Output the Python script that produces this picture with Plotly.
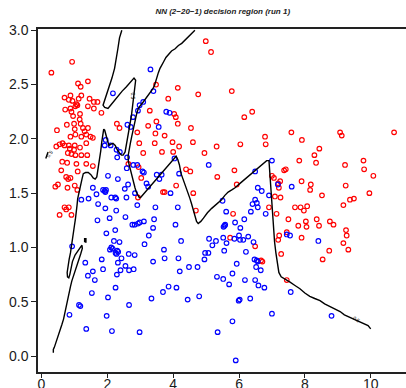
import plotly.graph_objects as go

# ---------------- data ----------------
red_pts = [
    (0.93,2.71),(0.30,2.61),(1.11,2.51),(1.41,2.53),(1.19,2.48),(0.70,2.38),(0.88,2.40),(1.21,2.40),
    (1.13,2.37),(0.83,2.36),(0.94,2.35),(1.06,2.32),(1.09,2.31),(1.03,2.30),(1.46,2.37),(1.59,2.34),
    (1.70,2.34),(1.41,2.30),(1.59,2.28),(1.82,2.24),(0.72,2.27),(0.88,2.28),(0.91,2.25),(0.96,2.21),
    (1.17,2.23),(1.16,2.18),(0.47,2.08),(0.77,2.13),(0.99,2.14),(1.19,2.14),(1.01,2.09),(1.03,2.04),
    (1.26,2.10),(1.31,2.07),(1.41,2.10),(0.88,2.02),(1.21,2.02),(1.36,2.04),(1.49,2.02),(1.56,2.01),
    (2.29,2.14),(2.37,2.10),(0.55,1.95),(0.70,1.94),(0.83,1.94),(1.01,1.94),(1.36,1.96),(0.45,1.93),
    (0.64,1.96),(1.17,1.92),
    (0.86,1.91),(0.99,1.90),(0.80,1.87),(0.91,1.86),(1.03,1.85),(1.21,1.85),(1.39,1.85),(0.63,1.79),
    (0.78,1.78),(1.06,1.77),(1.36,1.77),(1.56,1.75),(0.60,1.71),(1.10,1.70),(0.75,1.65),(0.81,1.63),
    (0.88,1.64),(0.50,1.58),(0.42,1.56),(0.79,1.55),(1.01,1.57),(1.09,1.53),(0.70,1.37),(0.75,1.35),
    (0.83,1.37),(0.55,1.30),(0.91,1.30),
    (3.48,2.50),(3.85,2.37),(3.29,2.26),(3.24,2.12),(3.49,2.16),(3.74,2.03),(3.46,2.05),(4.03,2.23),
    (4.08,2.20),(2.91,2.06),(2.97,1.96),(3.09,1.87),(3.44,1.96),(3.66,1.88),(4.00,1.88),(3.98,1.97),
    (2.64,1.77),(2.95,1.74),(3.03,1.64),(2.93,1.46),(3.69,1.51),(3.74,1.51),(4.09,1.57),
    (4.18,1.93),(4.95,1.87),(5.32,1.93),(4.39,1.72),(4.52,1.70),(5.86,1.71),(5.34,1.65),(4.61,1.50),
    (5.93,1.58),(4.69,1.34),(5.82,1.31),(5.73,1.09),(6.49,1.01),(6.71,0.87),(7.00,1.66),(7.06,1.64),
    (7.19,1.59),(7.25,1.61),(7.21,1.55),(7.37,1.71),(7.42,1.72),(7.83,1.80),(8.29,1.85),(7.90,1.61),
    (8.18,1.58),(8.16,1.53),(7.09,1.47),(7.26,1.46),(6.91,1.37),(7.70,1.37),(7.87,1.37),(7.97,1.34),
    (8.07,1.38),(7.14,1.31),(7.50,1.26),(8.03,1.24),(7.80,1.20),(7.45,1.14),(7.90,1.09),(7.19,1.07),
    (7.28,0.94),
    (4.99,2.90),(5.15,2.80),(4.14,2.47),(4.76,2.41),(5.78,2.44),(4.14,2.14),(4.54,2.10),(6.16,2.20),
    (6.40,2.25),(4.60,1.97),(6.04,1.95),(6.79,2.02),(6.81,1.95),(7.59,2.06),(7.91,1.99),
    (8.44,1.91),(8.34,1.78),(9.07,2.06),(9.12,2.03),(10.71,2.06),(9.78,1.80),(9.80,1.72),(9.22,1.76),
    (10.08,1.66),(9.24,1.57),(8.52,1.48),(9.96,1.50),(9.49,1.45),(9.37,1.44),(9.17,1.39),(8.36,1.26),
    (8.76,1.24),(8.87,1.21),(8.43,1.20),(8.05,1.19),(9.25,1.16),(9.27,1.11),(9.17,1.04),(9.32,0.98),
    (8.74,0.97),(8.54,0.89),(6.67,0.88),(7.45,0.70),(7.22,1.11),
]

blue_pts = [
    (3.31,2.64),(3.40,2.44),(2.17,2.42),(3.09,2.34),(2.98,2.31),(2.93,2.26),(2.78,2.20),(2.61,2.13),
    (2.71,2.11),(3.56,2.11),(3.79,2.25),(3.89,2.24),(1.95,1.99),(1.92,1.94),(2.10,1.94),
    (2.28,1.90),(2.38,1.88),(2.30,1.83),(2.60,1.83),(2.79,1.76),(2.91,1.76),(3.07,1.70),(3.11,1.69),
    (2.59,1.73),(3.19,1.59),(3.24,1.56),(2.53,1.54),(2.63,1.58),(2.84,1.50),(3.50,1.67),(3.58,1.63),
    (3.65,1.67),(3.92,1.50),(4.04,1.82),(4.18,1.68),(5.08,1.76),
    (2.02,1.66),(2.32,1.63),(1.56,1.55),(1.87,1.53),(1.92,1.52),(1.96,1.53),(1.94,1.51),(1.67,1.49),
    (1.43,1.45),(1.72,1.40),(2.12,1.46),(2.24,1.46),(2.27,1.45),(2.58,1.46),(2.91,1.39),(3.46,1.37),
    (1.21,1.44),(1.94,1.36),(2.27,1.34),(2.07,1.27),(1.70,1.25),(2.55,1.28),(2.76,1.21),(2.83,1.21),
    (2.93,1.22),(2.98,1.23),(3.11,1.24),(3.42,1.26),(3.39,1.18),(3.26,1.11),(3.13,1.03),(3.72,0.98),
    (4.07,1.21),(1.97,1.13),(2.24,1.16),(2.20,1.06),(2.12,1.00),(2.16,0.99),(2.08,0.98),(2.37,1.05),
    (0.93,1.01),(2.33,0.96),(2.28,0.94),(2.25,0.95),(2.30,0.97),(2.43,0.90),(2.65,0.94),(2.83,0.93),
    (1.33,0.86),(3.39,0.87),(3.74,0.90),(1.83,0.89),
    (7.00,1.80),(6.49,1.70),(6.57,1.55),(6.69,1.52),(7.18,1.58),(7.60,1.56),(6.91,1.48),(5.50,1.43),
    (6.49,1.44),(6.54,1.41),(6.41,1.40),(6.57,1.37),(6.81,1.31),(6.36,1.33),(5.61,1.33),(4.14,1.37),
    (6.16,1.26),(5.88,1.23),(5.56,1.20),(5.53,1.19),(5.58,1.21),(6.04,1.18),(4.24,1.06),(4.16,0.90),
    (5.09,1.08),(5.30,1.06),(5.19,1.02),(5.52,1.09),(5.62,1.04),(5.86,1.08),(6.00,1.11),(6.03,1.07),
    (6.13,1.07),(6.28,1.10),(6.44,1.05),(5.55,0.97),(6.21,0.96),(4.97,0.95),(5.07,0.95),(4.95,0.89),
    (6.54,0.88),(6.57,0.87),(6.47,0.89),(5.93,0.85),(7.45,1.12),(7.55,1.11),(8.41,1.06),
    (1.56,0.78),(1.41,0.74),(1.87,0.80),(1.62,0.70),(2.32,0.86),(2.55,0.83),(2.40,0.79),(2.29,0.75),
    (2.66,0.79),(2.80,0.80),(2.25,0.63),(1.53,0.58),(2.02,0.54),(1.14,0.47),(1.18,0.46),(0.85,0.38),
    (2.66,0.47),(1.98,0.37),(3.34,0.53),(3.69,0.59),(3.86,0.64),(4.10,0.63),(1.36,0.25),(2.14,0.23),
    (2.98,0.22),
    (4.20,0.78),(4.48,0.82),(4.74,0.82),(6.52,0.82),(6.66,0.79),(5.33,0.73),(5.52,0.71),(5.80,0.76),
    (5.70,0.66),(6.18,0.70),(6.49,0.70),(6.59,0.65),(6.77,0.63),(4.44,0.52),(4.79,0.55),(5.99,0.51),
    (6.02,0.52),(6.34,0.53),(7.57,0.59),(7.00,0.39),(5.80,0.32),(5.35,0.22),(5.90,-0.04),(8.81,0.37),
]

# decision boundary (0.5 contour), traced vertices
boundary_a = [
    (2.44,3.00),(2.37,2.93),(2.32,2.83),(2.27,2.74),(2.22,2.65),(2.14,2.56),(2.07,2.50),(2.00,2.44),
    (1.94,2.39),(1.89,2.34),(1.87,2.31),(1.92,2.29),(2.02,2.28),(2.10,2.31),(2.20,2.35),(2.32,2.39),
    (2.45,2.44),(2.58,2.48),(2.70,2.52),(2.81,2.56),(2.86,2.54),(2.84,2.48),(2.82,2.42),(2.79,2.35),
    (2.76,2.28),(2.73,2.21),(2.69,2.14),(2.65,2.07),(2.62,2.00),(2.59,1.93),(2.54,1.88),(2.48,1.85),
    (2.43,1.85),(2.37,1.87),(2.30,1.90),(2.24,1.94),(2.17,1.96),(2.10,1.95),(2.05,1.94),(2.00,1.99),
    (1.96,2.04),(1.92,2.08),(1.89,2.09),(1.86,2.04),(1.83,1.97),(1.80,1.89),(1.77,1.82),(1.74,1.76),
    (1.71,1.70),(1.68,1.65),(1.63,1.63),(1.57,1.64),(1.50,1.67),(1.42,1.69),(1.34,1.69),(1.27,1.68),
    (1.23,1.63),(1.19,1.58),(1.15,1.54),(1.12,1.50),(1.10,1.45),(1.08,1.39),(1.06,1.32),(1.03,1.26),
    (1.00,1.20),(0.97,1.13),(0.94,1.07),(0.91,1.01),(0.88,0.95),(0.84,0.89),(0.80,0.83),(0.78,0.77),
    (0.79,0.73),(0.83,0.72),(0.86,0.75),(0.89,0.81),(0.94,0.87),(1.02,0.93),(1.10,0.97),(1.18,1.00),
    (1.23,1.02),(1.24,0.99),(1.19,0.94),(1.12,0.88),(1.04,0.81),(0.97,0.75),(0.92,0.69),(0.88,0.64),
    (0.84,0.58),(0.80,0.52),(0.76,0.46),(0.72,0.40),(0.67,0.34),(0.62,0.29),(0.57,0.24),(0.52,0.19),
    (0.47,0.15),(0.43,0.11),(0.39,0.08),(0.36,0.06),(0.36,0.03),
]

boundary_b = [
    (4.66,3.00),(4.56,2.97),(4.46,2.94),(4.36,2.91),(4.26,2.88),(4.16,2.86),(4.06,2.83),(3.95,2.81),
    (3.85,2.78),(3.78,2.75),(3.71,2.71),(3.65,2.68),(3.60,2.65),(3.55,2.61),(3.51,2.57),(3.48,2.53),
    (3.43,2.49),(3.38,2.46),(3.31,2.43),(3.25,2.40),(3.17,2.37),(3.09,2.34),(3.01,2.31),(2.94,2.28),
    (2.89,2.23),(2.85,2.18),(2.82,2.14),(2.78,2.08),(2.74,2.02),(2.70,1.96),(2.66,1.90),(2.63,1.84),
    (2.64,1.79),(2.68,1.74),(2.72,1.68),(2.76,1.63),(2.80,1.59),(2.84,1.55),(2.88,1.51),(2.92,1.48),
    (2.97,1.46),(3.01,1.46),(3.30,1.56),(3.60,1.67),(3.90,1.77),(4.09,1.84),(4.14,1.81),(4.19,1.76),
    (4.24,1.68),(4.31,1.62),(4.39,1.56),(4.46,1.51),(4.51,1.45),(4.56,1.40),(4.61,1.34),(4.66,1.28),
    (4.71,1.24),(4.76,1.22),(4.84,1.24),(4.92,1.27),(5.04,1.32),(5.17,1.36),(5.32,1.40),(5.47,1.44),
    (5.57,1.48),(5.67,1.51),(5.78,1.53),(5.88,1.55),(6.03,1.59),(6.18,1.63),(6.33,1.67),(6.49,1.71),
    (6.66,1.76),(6.84,1.80),(6.91,1.80),(6.94,1.65),(6.97,1.50),(7.00,1.35),(7.04,1.20),(7.08,1.05),
    (7.12,0.95),(7.17,0.86),(7.21,0.77),(7.28,0.73),(7.40,0.71),(7.55,0.68),(7.70,0.65),(7.85,0.62),
    (8.00,0.58),(8.15,0.55),(8.30,0.53),(8.46,0.51),(8.60,0.48),(8.75,0.46),(8.90,0.44),(9.07,0.41),
    (9.20,0.38),(9.35,0.36),(9.50,0.34),(9.65,0.32),(9.80,0.30),(9.92,0.28),(10.00,0.25),
]

boundary_dot = [(1.31,1.05),(1.35,1.05),(1.35,1.08),(1.31,1.08),(1.31,1.05)]
boundary_stub = [(0.13,1.82),(0.20,1.88)]

label_x = [2.78, 0.24, 9.56]
label_y = [2.40, 1.86, 0.34]
label_angle = [90, -55, 33]
label_text = ["0.5", "0.5", "0.5"]

x_ticks = [0, 2, 4, 6, 8, 10]
y_ticks = [0.0, 0.5, 1.0, 1.5, 2.0, 2.5, 3.0]
y_tick_text = ["0.0", "0.5", "1.0", "1.5", "2.0", "2.5", "3.0"]

title_text = "NN (2\u221220\u22121) decision region (run 1)"

# ---------------- figure ----------------
def split(pts):
    return [p[0] for p in pts], [p[1] for p in pts]

red_x, red_y = split(red_pts)
blue_x, blue_y = split(blue_pts)

fig = go.Figure()
fig.add_trace(go.Scatter(x=red_x, y=red_y, mode="markers",
                         marker=dict(symbol="circle-open", size=4.6, color="#FF0000",
                                     line=dict(width=1.2, color="#FF0000"))))
fig.add_trace(go.Scatter(x=blue_x, y=blue_y, mode="markers",
                         marker=dict(symbol="circle-open", size=4.6, color="#0000FF",
                                     line=dict(width=1.2, color="#0000FF"))))
for pts in (boundary_a, boundary_b, boundary_dot, boundary_stub):
    bx, by = split(pts)
    fig.add_trace(go.Scatter(x=bx, y=by, mode="lines",
                             line=dict(color="#000000", width=1.4), hoverinfo="skip"))

for lx, ly, la, lt in zip(label_x, label_y, label_angle, label_text):
    fig.add_annotation(x=lx, y=ly, text=lt, showarrow=False, textangle=la,
                       font=dict(size=5, color="#000000", family="Liberation Sans"))

fig.update_layout(
    template="none",
    width=406, height=388,
    margin=dict(l=38, r=0, t=29, b=16, pad=0),
    paper_bgcolor="white", plot_bgcolor="white",
    showlegend=False,
    font=dict(family="Liberation Sans", color="#1a1a1a"),
    title=dict(text="<b><i>" + title_text + "</i></b>", x=0.502, xref="paper",
               y=0.970, yref="container", xanchor="center", yanchor="middle",
               font=dict(size=8, family="Liberation Sans", color="#222222")),
    xaxis=dict(range=[-0.106, 11.072], tickvals=x_ticks, ticktext=[str(v) for v in x_ticks],
               ticks="outside", ticklen=4, tickwidth=1.2, tickcolor="#222222",
               ticklabelstandoff=-6,
               showline=True, linecolor="#222222", linewidth=1.5, mirror=True,
               showgrid=False, zeroline=False, automargin=False,
               tickfont=dict(size=14, family="Liberation Sans", color="#1a1a1a")),
    yaxis=dict(range=[-0.147, 3.012], tickvals=y_ticks, ticktext=y_tick_text,
               ticks="outside", ticklen=5, tickwidth=1.2, tickcolor="#222222",
               showline=True, linecolor="#222222", linewidth=1.5, mirror=False,
               showgrid=False, zeroline=False, automargin=False,
               tickfont=dict(size=14, family="Liberation Sans", color="#1a1a1a")),
)

fig.write_html("out.html")
